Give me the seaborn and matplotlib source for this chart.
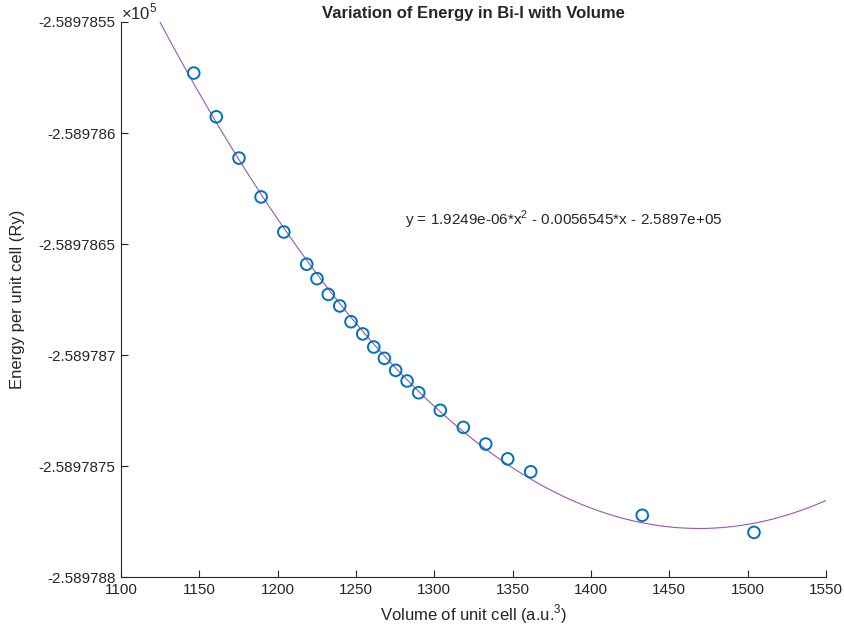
import numpy as np
import pandas as pd
import matplotlib
matplotlib.use("Agg")
import matplotlib.pyplot as plt
import seaborn as sns

# Data (volume in a.u.^3, energy in Ry)
volume = [1146.4, 1160.8, 1175.3, 1189.4, 1203.9, 1218.5, 1225.1, 1232.3,
          1239.6, 1246.8, 1254.3, 1261.3, 1268.1, 1275.3, 1282.6, 1290.0,
          1303.8, 1318.5, 1332.8, 1346.8, 1361.5, 1432.7, 1504.0]
energy = [-258978.5730, -258978.5927, -258978.6113, -258978.6288, -258978.6446,
          -258978.6591, -258978.6656, -258978.6727, -258978.6779, -258978.6850,
          -258978.6905, -258978.6964, -258978.7015, -258978.7069, -258978.7117,
          -258978.7170, -258978.7249, -258978.7326, -258978.7401, -258978.7468,
          -258978.7526, -258978.7722, -258978.7799]
x_ticks = [1100, 1150, 1200, 1250, 1300, 1350, 1400, 1450, 1500, 1550]
y_ticks = [-258978.55, -258978.60, -258978.65, -258978.70, -258978.75, -258978.80]
y_tick_labels = ["-2.5897855", "-2.589786", "-2.5897865", "-2.589787",
                 "-2.5897875", "-2.589788"]
fit_label = "y = 1.9249e-06*x$^2$ - 0.0056545*x - 2.5897e+05"

sns.set_style("white")
plt.rcParams['font.family'] = ['Liberation Sans', 'DejaVu Sans']
plt.rcParams['mathtext.fontset'] = 'custom'
plt.rcParams['mathtext.rm'] = 'Liberation Sans'

df = pd.DataFrame({"volume": volume, "energy": energy})

# quadratic fit from data
coef = np.polyfit(np.array(volume), np.array(energy), 2)
xf = np.linspace(1100, 1550, 400)
fit_df = pd.DataFrame({"volume": xf, "energy": np.polyval(coef, xf)})

fig = plt.figure(figsize=(8.44, 6.34), dpi=100)
ax = fig.add_axes([0.1434, 0.0899, 0.8353, 0.8754])

sns.lineplot(data=fit_df, x="volume", y="energy", ax=ax, color="#9b55ad",
             linewidth=0.8, sort=False)
sns.scatterplot(data=df, x="volume", y="energy", ax=ax, marker="o",
                s=70, facecolor="none", edgecolor="#0072BD", linewidth=1.4,
                zorder=3)

ax.set_xlim(1100, 1550)
ax.set_ylim(-258978.80, -258978.55)
ax.set_xticks(x_ticks)
ax.set_xticklabels([str(t) for t in x_ticks])
ax.set_yticks(y_ticks)
ax.set_yticklabels(y_tick_labels)

for s in ["top", "right"]:
    ax.spines[s].set_visible(False)
for s in ["left", "bottom"]:
    ax.spines[s].set_color("#262626")
    ax.spines[s].set_linewidth(0.8)
ax.tick_params(direction="in", length=5, width=0.8, colors="#262626",
               labelsize=11, pad=4, left=True, bottom=True)

ax.set_xlabel("Volume of unit cell (a.u.$^3$)", fontsize=12, color="#262626",
              labelpad=4)
ax.set_ylabel("Energy per unit cell (Ry)", fontsize=12, color="#262626",
              labelpad=10)
ax.set_title("Variation of Energy in Bi-I with Volume", fontsize=12,
             fontweight="bold", pad=3)

ax.text(0.0, 1.0, r"$\times$10$^5$", transform=ax.transAxes, fontsize=12,
        ha="left", va="bottom", color="#262626")
ax.text(1281.3, -258978.6392, fit_label, fontsize=11, ha="left", va="center")

fig.savefig("out.png", dpi=100)
